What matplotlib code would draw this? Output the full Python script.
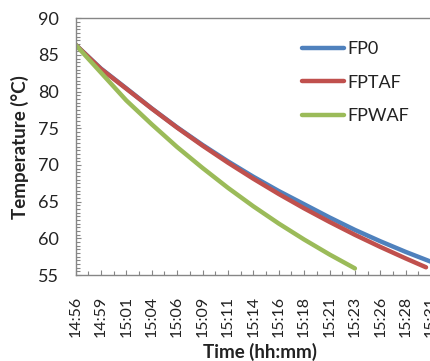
import numpy as np
import matplotlib
matplotlib.use("Agg")
import matplotlib.pyplot as plt
from matplotlib.ticker import MultipleLocator

plt.rcParams['font.family'] = ['Lato', 'DejaVu Sans']

# minutes after 14:56
t_fp0 = [0, 2.5, 5, 7.5, 10, 12.5, 15, 17.5, 20, 22.5, 25, 27.5, 30, 32.5, 35, 36]
fp0 = [86.4, 83.15, 80.45, 77.72, 75.14, 72.74, 70.5, 68.4, 66.45, 64.65, 62.85,
       61.15, 59.6, 58.15, 56.8, 56.3]

t_fptaf = [0, 2.5, 5, 7.5, 10, 12.5, 15, 17.5, 20, 22.5, 25, 27.5, 30, 32.5, 34.5]
fptaf = [86.4, 83.1, 80.4, 77.69, 75.09, 72.64, 70.32, 68.13, 66.05, 64.09, 62.24,
         60.48, 58.83, 57.26, 56.05]

t_fpwaf = [0, 2.5, 5, 7.5, 10, 12.5, 15, 17.5, 20, 22.5, 25, 27.5]
fpwaf = [86.4, 82.6, 78.8, 75.55, 72.45, 69.6, 66.89, 64.37, 62.02, 59.84, 57.8, 55.9]

tick_labels = ['14:56', '14:59', '15:01', '15:04', '15:06', '15:09', '15:11', '15:14',
               '15:16', '15:18', '15:21', '15:23', '15:26', '15:28', '15:31']

W, H = 430, 361
fig = plt.figure(figsize=(W / 100, H / 100), dpi=100)
x0, x1 = 75.5, 75.5 + 36 * 10.16
y_top, y_bot = 18.3, 275
ax = fig.add_axes([x0 / W, 1 - y_bot / H, (x1 - x0) / W, (y_bot - y_top) / H])

lw = 3.2
ax.plot(t_fp0, fp0, color='#4F81BD', lw=lw, solid_capstyle='round', label='FP0')
ax.plot(t_fptaf, fptaf, color='#C0504D', lw=lw, solid_capstyle='round', label='FPTAF')
ax.plot(t_fpwaf, fpwaf, color='#9BBB59', lw=lw, solid_capstyle='round', label='FPWAF')

ax.set_xlim(0, 36)
ax.set_ylim(55, 90)
ax.set_xticks(np.arange(len(tick_labels)) * 2.5)
ax.set_xticklabels(tick_labels, rotation=90)
ax.xaxis.set_minor_locator(MultipleLocator(1.25))
ax.yaxis.set_major_locator(MultipleLocator(5))
ax.yaxis.set_minor_locator(MultipleLocator(0.5))

for s in ['left', 'bottom', 'top']:
    ax.spines[s].set_color('#868686')
    ax.spines[s].set_linewidth(1.0)
ax.spines['right'].set_visible(False)

ax.tick_params(axis='both', which='both', direction='in', color='#868686', width=0.8)
ax.tick_params(axis='both', which='major', length=3.5, labelcolor='#222222')
ax.tick_params(axis='both', which='minor', length=3)
ax.tick_params(axis='y', which='major', pad=12, labelsize=13)
ax.tick_params(axis='x', which='major', pad=15, labelsize=11.5)

fig.text(20 / W, 1 - 147 / H, 'Temperature (°C)', rotation=90, ha='center', va='center',
         fontsize=13.5, fontweight='bold', color='#222222')
fig.text(260 / W, 1 - 352 / H, 'Time (hh:mm)', ha='center', va='center',
         fontsize=13.5, fontweight='bold', color='#222222')

leg = fig.legend(loc='upper left', bbox_to_anchor=(302 / W, 1 - 41 / H), frameon=False,
                 fontsize=13, handlelength=2.3, handletextpad=0.22, labelspacing=0.98,
                 borderpad=0, borderaxespad=0)
for txt in leg.get_texts():
    txt.set_color('#222222')

fig.savefig('out.png', dpi=100)
